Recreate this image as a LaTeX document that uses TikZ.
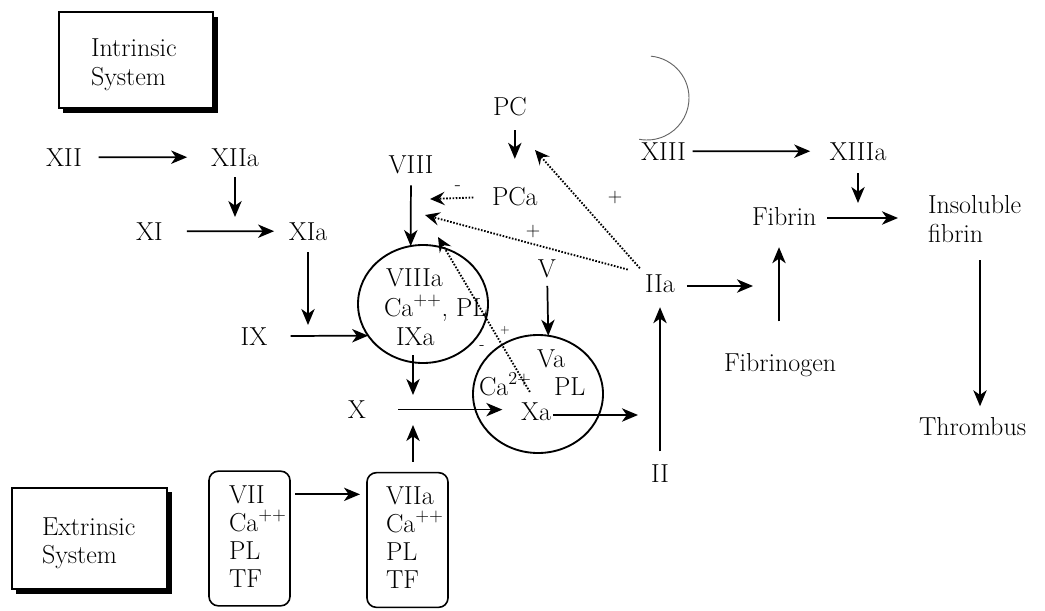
\documentclass[tikz,border=0pt]{standalone}
\usetikzlibrary{arrows.meta,shapes.geometric}
\begin{document}
\begin{tikzpicture}[x=0.75pt,y=-0.75pt,
  every node/.style={inner sep=0pt,outer sep=0pt,font=\fontsize{19.5}{21}\selectfont},
  lbl/.style={anchor=base},
  lblw/.style={anchor=base west},
  arr/.style={line width=1.3pt,-{Stealth[length=12pt,width=10pt,inset=3.5pt]}},
  dotarr/.style={line width=1.4pt,dash pattern=on 1.2pt off 1.2pt,-{Stealth[length=11pt,width=10pt,inset=4pt]}},
  ring/.style={draw,ellipse,line width=1.4pt,minimum width=97.5pt,minimum height=88.5pt},
  sysbox/.style={draw,line width=1.2pt,fill=white},
  factbox/.style={draw,line width=1.2pt,rounded corners=7pt,minimum width=60.75pt,minimum height=101pt},
  sign/.style={font=\fontsize{15}{15}\selectfont},
  smallsign/.style={font=\fontsize{9}{9}\selectfont},
  arcline/.style={line width=0.7pt,black!60}
]
\useasboundingbox (0,0) rectangle (1045,610);

% system boxes with shadows
\fill (63,17) rectangle (218,113);
\fill (16,492) rectangle (172,594);
\node[sysbox,minimum width=115.5pt,minimum height=72pt] (intr) at (136,60) {};
\node[sysbox,minimum width=116.25pt,minimum height=75.75pt] (extr) at (89.5,538.5) {};
\node[lblw] (intr1) at (91,57) {Intrinsic};
\node[lblw] (intr2) at (91,85) {System};
\node[lblw] (extr1) at (42,535) {Extrinsic};
\node[lblw] (extr2) at (42,563) {System};

% factor boxes
\node[factbox] (boxVII) at (249.5,538.5) {};
\node[factbox] (boxVIIa) at (407.5,540) {};
\node[lblw] (vii1) at (229,503) {VII};
\node[lblw] (vii2) at (229,531) {Ca\textsuperscript{++}};
\node[lblw] (vii3) at (229,559) {PL};
\node[lblw] (vii4) at (229,587) {TF};
\node[lblw] (viia1) at (386,504) {VIIa};
\node[lblw] (viia2) at (386,532) {Ca\textsuperscript{++}};
\node[lblw] (viia3) at (386,560) {PL};
\node[lblw] (viia4) at (386,588) {TF};

% complexes
\node[ring] (c1) at (423,304) {};
\node[ring] (c2) at (538,394) {};
\node[lblw] (VIIIa) at (386,286) {VIIIa};
\node[lblw] (CaPL) at (384,316) {Ca\textsuperscript{++}, PL};
\node[lblw] (IXa) at (396,345) {IXa};
\node[lblw] (Va) at (537,367) {Va};
\node[lblw] (Ca2) at (479,395) {Ca\textsuperscript{2+}};
\node[lblw] (PL2) at (554,395) {PL};
\node[lblw] (Xa) at (521,420) {Xa};

% factors
\node[lbl] (XII) at (64,166) {XII};
\node[lbl] (XIIa) at (235,166) {XIIa};
\node[lbl] (XI) at (149.5,240) {XI};
\node[lbl] (XIa) at (308,240) {XIa};
\node[lbl] (IX) at (254,345) {IX};
\node[lbl] (VIII) at (411,173) {VIII};
\node[lbl] (PC) at (510,115) {PC};
\node[lblw] (PCa) at (492,205) {PCa};
\node[lbl] (V) at (547,277) {V};
\node[lbl] (X) at (357,418.5) {X};
\node[lbl] (IIa) at (660,292) {IIa};
\node[lbl] (II) at (660,482) {II};
\node[lblw] (XIII) at (641,160) {XIII};
\node[lbl] (XIIIa) at (858,160) {XIIIa};
\node[lblw] (Fibrin) at (752,225) {Fibrin};
\node[lblw] (Fibrinogen) at (724,371) {Fibrinogen};
\node[lblw] (Ins1) at (928,213) {Insoluble};
\node[lblw] (Ins2) at (928,242) {fibrin};
\node[lblw] (Thrombus) at (919,435) {Thrombus};

% signs
\node[sign] (plus1) at (615,198) {+};
\node[sign] (plus2) at (533,232) {+};
\node[smallsign] (plus3) at (505,330) {+};
\node[font=\fontsize{15}{15}\selectfont] (minus1) at (458,188) {-};
\node[font=\fontsize{12}{12}\selectfont] (minus2) at (482,348) {-};

% free ends
\coordinate (pXIIa) at (235,217);
\coordinate (pXIa) at (308,325);
\coordinate (pIXa) at (413,395);
\coordinate (pVIIa) at (413,425);
\coordinate (pXa) at (638,415);
\coordinate (pIIa) at (753,286);
\coordinate (pFib) at (898,218);
\coordinate (pXIIIa) at (858,203);
\coordinate (xT) at (980,0);
\coordinate (xF) at (779,0);
\coordinate (tPC) at (535,150);
\coordinate (tVIII) at (425,215);
\coordinate (tPCa) at (430,199);
\coordinate (tC1) at (438,237);

% solid arrows
\draw[arr,shorten <=12.5pt,shorten >=18pt] (XII) -- (XIIa);
\draw[arr,shorten <=8.25pt] (XIIa) -- (pXIIa);
\draw[arr,shorten <=18pt,shorten >=11pt] (XI) -- (XIa);
\draw[arr,shorten <=9pt] (XIa) -- (pXIa);
\draw[arr,shorten <=17.5pt] (IX) -- (c1.210);
\draw[arr,shorten <=9pt] (VIII) -- (c1.102);
\draw[arr,shorten <=7.5pt] (pIXa |- IXa.south) -- (pIXa);
\draw[arr,shorten <=8.25pt] (pVIIa |- boxVIIa.north) -- (pVIIa);
\draw[arr,shorten <=24pt,shorten >=14pt] (X) -- (X -| Xa.west);
\draw[arr,shorten <=6.4pt] (V) -- (c2.80);
\draw[arr,shorten <=1.5pt] (Xa.east |- pXa) -- (pXa);
\draw[arr,shorten <=9.7pt,shorten >=11.25pt] (II) -- (IIa);
\draw[arr,shorten <=9pt] (IIa.east |- pIIa) -- (pIIa);
\draw[arr,shorten <=23.7pt,shorten >=16.5pt] (Fibrinogen.north -| xF) -- (Fibrin.south -| xF);
\draw[arr,shorten <=8pt] (Fibrin.east |- pFib) -- (pFib);
\draw[arr,shorten <=5pt,shorten >=14.5pt] (XIII) -- (XIIIa);
\draw[arr,shorten <=9.75pt] (XIIIa) -- (pXIIIa);
\draw[arr,shorten <=13.5pt,shorten >=8pt] (Ins2.south -| xT) -- (Thrombus.north -| xT);
\draw[arr,shorten <=11.25pt,shorten >=21pt] (PC.south -| PCa.center) -- (PCa.north);
\draw[arr,shorten <=3.75pt,shorten >=5.25pt] (boxVII.east |- vii1.center) -- (boxVIIa.west |- vii1.center);

% dotted regulation arrows
\draw[dotarr,shorten <=6pt] (IIa.north west) -- (tPC);
\draw[dotarr,shorten <=13.5pt] (IIa.north west) -- (tVIII);
\draw[dotarr,shorten <=14pt] (PCa) -- (tPCa);
\draw[dotarr,shorten <=9pt] (Xa.north) -- (tC1);

% thin arc
\draw[arcline] (647,98) ++(-84.6:42) arc[start angle=-84.6,end angle=100.8,radius=42];
\end{tikzpicture}
\end{document}
